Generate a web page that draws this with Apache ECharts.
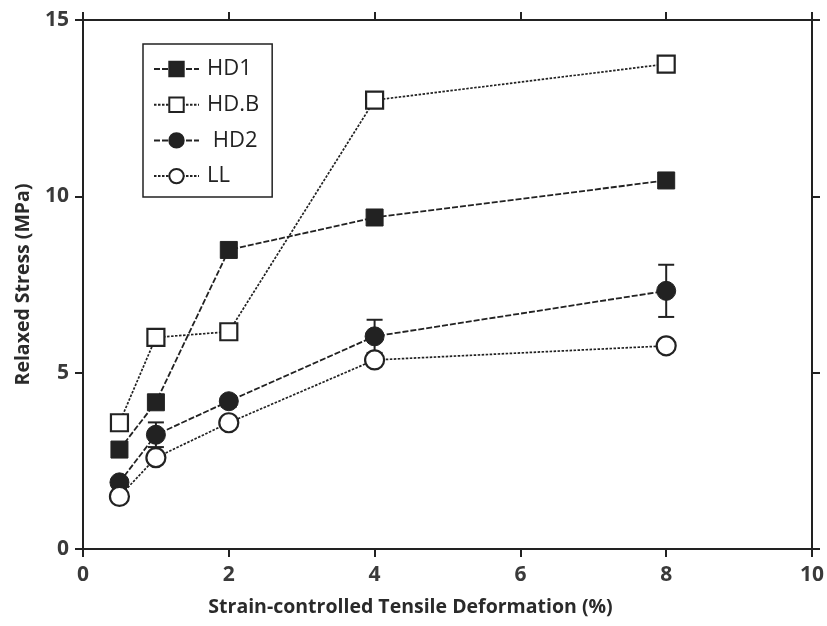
<!DOCTYPE html>
<html>
<head>
<meta charset="utf-8">
<script src="https://cdn.jsdelivr.net/npm/echarts@6/dist/echarts.min.js"></script>
<style>
  html, body { margin: 0; padding: 0; background: #fff; }
  #chart { width: 827px; height: 626px; }
</style>
</head>
<body>
<div id="chart"></div>
<script>
// Strain levels (%) at which relaxed stress was measured
const strain = [0.5, 1, 2, 4, 8];

// Relaxed stress (MPa) for each material
const hd1 = [2.82, 4.16, 8.48, 9.40, 10.45];
const hdB = [3.58, 6.00, 6.16, 12.73, 13.75];
const hd2 = [1.89, 3.24, 4.19, 6.03, 7.32];
const ll  = [1.49, 2.59, 3.58, 5.36, 5.76];

// Standard deviation for HD2 (MPa)
const hd2Err = [0.12, 0.35, 0.15, 0.47, 0.74];

const xTicks = [0, 2, 4, 6, 8, 10];
const yTicks = [0, 5, 10, 15];

const ink = '#222';
const fontFamily = '"Open Sans", "DejaVu Sans", sans-serif';

const pairs = (ys) => strain.map((x, i) => [x, ys[i]]);

const dashed = { color: ink, width: 1.8, type: [6, 2] };
const dotted = { color: ink, width: 1.7, type: [2.5, 1.5] };

function lineSeries(name, ys, symbol, filled, lineStyle) {
  return {
    type: 'line',
    name: name,
    data: pairs(ys),
    symbol: symbol,
    symbolSize: symbol === 'rect' ? 17 : 19,
    showAllSymbol: true,
    lineStyle: lineStyle,
    itemStyle: filled
      ? { color: ink, borderColor: ink, borderWidth: 1 }
      : { color: '#fff', borderColor: ink, borderWidth: 2.2 },
    emphasis: { disabled: true },
    z: 3
  };
}

const errSeries = {
  type: 'custom',
  name: 'HD2 err',
  data: strain.map((x, i) => [x, hd2[i], hd2Err[i]]),
  renderItem: function (params, api) {
    const x = api.value(0), y = api.value(1), e = api.value(2);
    const top = api.coord([x, y + e]);
    const bot = api.coord([x, y - e]);
    const half = 8;
    const style = { stroke: ink, lineWidth: 2 };
    return {
      type: 'group',
      children: [
        { type: 'line', shape: { x1: top[0], y1: top[1], x2: bot[0], y2: bot[1] }, style: style },
        { type: 'line', shape: { x1: top[0] - half, y1: top[1], x2: top[0] + half, y2: top[1] }, style: style },
        { type: 'line', shape: { x1: bot[0] - half, y1: bot[1], x2: bot[0] + half, y2: bot[1] }, style: style }
      ]
    };
  },
  z: 2,
  silent: true
};

const axisLine = { show: true, onZero: false, lineStyle: { color: ink, width: 2 } };
const axisTick = { show: true, inside: false, length: 8, lineStyle: { color: ink, width: 2 } };
const labelStyle = { color: '#3a3a3a', fontSize: 21, fontWeight: 'bold', fontFamily: fontFamily };
const titleStyle = { color: '#2a2a2a', fontSize: 19.5, fontWeight: 'bold', fontFamily: fontFamily };

const chart = echarts.init(document.getElementById('chart'), null, { renderer: 'canvas' });
chart.setOption({
  animation: false,
  backgroundColor: '#fff',
  grid: { left: 83, right: 5, top: 20, bottom: 77, containLabel: false },
  legend: {
    orient: 'vertical',
    left: 143,
    top: 44,
    padding: [14, 13, 10, 10],
    itemGap: 13.7,
    itemWidth: 45,
    itemHeight: 18,
    borderColor: ink,
    borderWidth: 1.5,
    textStyle: { color: '#222', fontSize: 22, fontFamily: fontFamily, padding: [0, 0, 0, 3] },
    data: ['HD1', 'HD.B', ' HD2', 'LL'],
    selectedMode: false
  },
  xAxis: [
    {
      type: 'value', min: 0, max: 10, interval: 2, position: 'bottom',
      axisLine: axisLine, axisTick: axisTick, splitLine: { show: false },
      axisLabel: Object.assign({ margin: 16, formatter: v => xTicks.includes(v) ? String(v) : '' }, labelStyle),
      name: 'Strain-controlled Tensile Deformation (%)',
      nameLocation: 'middle', nameGap: 48,
      nameTextStyle: Object.assign({ padding: [0, 74, 0, 0] }, titleStyle)
    },
    {
      type: 'value', min: 0, max: 10, interval: 2, position: 'top',
      axisLine: axisLine, axisTick: axisTick, splitLine: { show: false },
      axisLabel: { show: false }
    }
  ],
  yAxis: [
    {
      type: 'value', min: 0, max: 15, interval: 5, position: 'left',
      axisLine: axisLine, axisTick: axisTick, splitLine: { show: false },
      axisLabel: Object.assign({ margin: 14, formatter: v => yTicks.includes(v) ? String(v) : '' }, labelStyle),
      name: 'Relaxed Stress (MPa)',
      nameLocation: 'middle', nameGap: 50, nameRotate: 90,
      nameTextStyle: titleStyle
    },
    {
      type: 'value', min: 0, max: 15, interval: 5, position: 'right',
      axisLine: axisLine, axisTick: axisTick, splitLine: { show: false },
      axisLabel: { show: false }
    }
  ],
  series: [
    errSeries,
    lineSeries('HD1', hd1, 'rect', true, dashed),
    lineSeries('HD.B', hdB, 'rect', false, dotted),
    lineSeries(' HD2', hd2, 'circle', true, dashed),
    lineSeries('LL', ll, 'circle', false, dotted)
  ]
});
</script>
</body>
</html>
